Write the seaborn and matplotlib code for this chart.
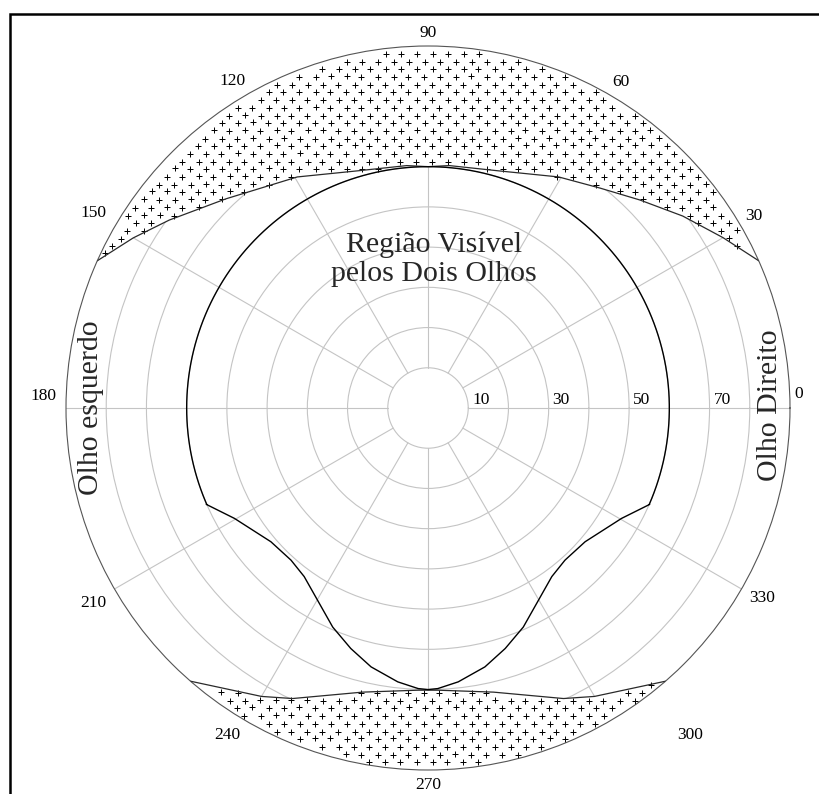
import numpy as np
import matplotlib
matplotlib.use("Agg")
import matplotlib.pyplot as plt
import seaborn as sns
from matplotlib.patches import Rectangle
from matplotlib.path import Path
import matplotlib.transforms as mtransforms

sns.set_theme(style="white")
plt.rcParams["font.family"] = ["Liberation Serif", "DejaVu Serif"]

# Limit of the total visual field, upper part (angle in degrees, eccentricity)
upper_theta = [24, 30, 37, 44.5, 52, 60.5, 73.5, 85, 90, 95, 106.5, 119.5, 134, 144, 150, 156]
upper_r = [90, 84.7, 79.3, 73.8, 69.4, 66, 61.5, 60.5, 60, 60.5, 61.5, 66, 72.3, 79.5, 84.6, 90]

# Limit of the total visual field, lower part
lower_theta = [229, 240, 245, 257, 268, 272, 283, 295, 300, 311]
lower_r = [90, 82.8, 79.7, 72.5, 70.2, 70.2, 72.5, 79.7, 82.8, 90]

# Binocular region: circular top (constant eccentricity) and lower notch
bino_arc_r = 60
bino_arc_span = (-23.5, 203.5)
bino_theta = [203.5, 209.7, 220.4, 228, 233.7, 240.1, 246.5, 252.2, 257.6, 263.7, 268, 270,
              272, 276.3, 282.4, 287.8, 293.5, 299.9, 306.3, 312, 319.6, 330.3, 336.5]
bino_r = [60.1, 55.4, 51.3, 50.9, 52.0, 55.1, 59.4, 62.8, 65.9, 68.5, 69.8, 70,
          69.8, 68.5, 65.9, 62.8, 59.4, 55.1, 52.0, 50.9, 51.3, 55.4, 60.1]

field_max = 90
ring_values = [10, 20, 30, 40, 50, 60, 70, 80]
ring_labels = [10, 30, 50, 70]
angle_ticks = [0, 30, 60, 90, 120, 150, 180, 210, 240, 270, 300, 330]

# label layout: (dx px, dy px, ha, va) relative to the rim point
angle_label_layout = {
    0: (4, 6, "left", "bottom"),
    30: (4, 3, "left", "bottom"),
    60: (3, 4, "left", "bottom"),
    90: (0, 5, "center", "bottom"),
    120: (-1, 5, "right", "bottom"),
    150: (-8, 6, "right", "bottom"),
    180: (-10, 4, "right", "bottom"),
    210: (-8, -6, "right", "top"),
    240: (-7, -5, "right", "top"),
    270: (0, -7, "center", "top"),
    300: (68, -5, "left", "top"),
    330: (8, -1, "left", "top"),
}

GRID = "#c4c4c4"
EDGE = "#2a2a2a"

W, H, DPI = 820, 794, 100
fig = plt.figure(figsize=(W / DPI, H / DPI), dpi=DPI)
fig.patch.set_facecolor("white")

cx, cy, R = 428, 408, 362
ax = fig.add_axes([(cx - R) / W, (H - cy - R) / H, 2 * R / W, 2 * R / H], projection="polar")
ax.set_facecolor("white")
ax.set_ylim(0, field_max)
ax.set_xticks([])
ax.set_yticks(ring_values)
ax.set_yticklabels([])
ax.yaxis.grid(True, color=GRID, lw=0.8)
ax.set_axisbelow(True)
ax.spines["polar"].set_color("#555555")
ax.spines["polar"].set_linewidth(0.8)

# spokes from the inner ring to the rim
for t in angle_ticks:
    a = np.deg2rad(t)
    ax.plot([a, a], [ring_values[0], field_max], color=GRID, lw=0.8, zorder=1)

# shaded monocular crescents: white fill + '+' texture on a pixel lattice
fig.canvas.draw()
bb = ax.bbox
step_x, step_y = 15.6, 7.7
rows = np.arange(np.floor(bb.y0), np.ceil(bb.y1), step_y)
pts = []
for i, yy in enumerate(rows):
    xs = np.arange(np.floor(bb.x0) + (step_x / 2 if i % 2 else 0), np.ceil(bb.x1), step_x)
    pts.append(np.column_stack([np.round(xs) + 0.5, np.full_like(xs, np.round(yy) + 0.5)]))
pts = np.vstack(pts)
pts_data = ax.transData.inverted().transform(pts)

for th, rr in [(upper_theta, upper_r), (lower_theta, lower_r)]:
    th_rad = np.deg2rad(th)
    ax.fill_between(th_rad, rr, 100, facecolor="white", edgecolor="none", zorder=2)
    outline = np.concatenate([np.column_stack([th_rad, rr]),
                              np.column_stack([th_rad[::-1], np.full(len(th), 100.0)])])
    region = Path(ax.transData.transform(outline))
    inside = region.contains_points(pts) & (pts_data[:, 1] < field_max - 0.8)
    ax.scatter(pts_data[inside, 0], pts_data[inside, 1], marker="+", s=16,
               c="black", linewidths=0.7, zorder=3)
    ax.plot(th_rad, rr, color=EDGE, lw=0.9, zorder=4)

# binocular region outline
arc_theta = np.linspace(bino_arc_span[0], bino_arc_span[1], 300)
full_theta = np.deg2rad(np.concatenate([arc_theta, bino_theta]))
full_r = np.concatenate([np.full_like(arc_theta, bino_arc_r), bino_r])
ax.plot(full_theta, full_r, color="black", lw=1.0, zorder=4)

# radial value labels
for v in ring_labels:
    tr = mtransforms.offset_copy(ax.transData, fig=fig, x=4, y=4, units="dots")
    ax.text(0, v, str(v), transform=tr, ha="left", va="baseline", fontsize=12.5,
            color="black", zorder=5)

# angle labels around the rim
for t in angle_ticks:
    dx, dy, ha, va = angle_label_layout[t]
    tr = mtransforms.offset_copy(ax.transData, fig=fig, x=dx, y=dy, units="dots")
    ax.text(np.deg2rad(t), field_max, str(t), transform=tr, ha=ha, va=va,
            fontsize=12.5, color="black", clip_on=False, zorder=5)

ax.text((434 - (cx - R)) / (2 * R), 1 - (259 - (cy - R)) / (2 * R),
        "Região Visível\npelos Dois Olhos", transform=ax.transAxes,
        ha="center", va="center", multialignment="center", fontsize=21.5,
        linespacing=1.15, zorder=6)
ax.text((91 - (cx - R)) / (2 * R), 0.5, "Olho esquerdo", transform=ax.transAxes,
        rotation=90, ha="center", va="center", fontsize=21.5, zorder=6)
ax.text((770 - (cx - R)) / (2 * R), 1 - (405 - (cy - R)) / (2 * R), "Olho Direito",
        transform=ax.transAxes, rotation=90, ha="center", va="center", fontsize=21.5, zorder=6)

# outer frame
fig.patches.append(Rectangle((10 / W, -0.1), 1.2, (H - 14) / H + 0.1, transform=fig.transFigure,
                             fill=False, edgecolor="black", lw=1.8))

fig.savefig("out.png", dpi=DPI)
